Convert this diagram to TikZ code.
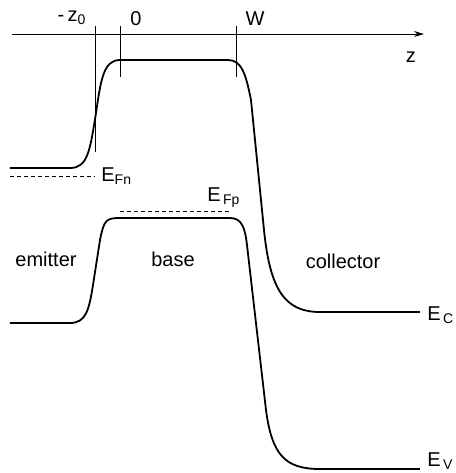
\documentclass[tikz,border=0pt]{standalone}
\usepackage{fontspec}
\setmainfont{Liberation Sans}
\usetikzlibrary{arrows.meta}
\begin{document}
\begin{tikzpicture}[x=0.5pt,y=-0.5pt,
  band/.style={line width=0.9pt,line join=round},
  fermi/.style={densely dashed,line width=0.5pt,dash pattern=on 2pt off 1.5pt},
  thin line/.style={line width=0.5pt},
  lbl/.style={inner sep=0pt,font=\fontsize{10}{12}\selectfont}]
\useasboundingbox (0,0) rectangle (456,473);

% axis and ticks
\coordinate (axL) at (12,34);
\coordinate (axR) at (424,34);
\draw[thin line,-{Stealth[length=5pt,width=3pt]}] (axL) -- (axR);
\coordinate (tzA) at (96,26);  \coordinate (tzB) at (96,152);
\coordinate (tnA) at (121,26); \coordinate (tnB) at (121,77);
\coordinate (twA) at (237,26); \coordinate (twB) at (237,77);
\draw[thin line] (tzA) -- (tzB);
\draw[thin line] (tnA) -- (tnB);
\draw[thin line] (twA) -- (twB);

\node[lbl] (lblzo) at (72,18) {-\,z\textsubscript{0}};
\node[lbl] (lblzero) at (136,19) {0};
\node[lbl] (lblW) at (255,19) {W};
\node[lbl] (lblz) at (411,57) {z};

% conduction band
\draw[band] (10,168) -- (70,168) .. controls (88,168) and (90,150) .. (96,113)
  .. controls (101,78) and (104,60) .. (120,60) -- (228,60)
  .. controls (242,60) and (246,75) .. (251,100) -- (264,230)
  .. controls (270,290) and (285,312) .. (320,312) -- (420,312);

% valence band
\draw[band] (10,323) -- (70,323) .. controls (86,323) and (89,310) .. (93,285)
  -- (100,240) .. controls (104,220) and (106,218) .. (120,218) -- (230,218)
  .. controls (242,218) and (245,228) .. (247,245) -- (266,410)
  .. controls (272,455) and (285,469) .. (320,469) -- (420,469);

% quasi Fermi levels
\coordinate (fnA) at (10,176);  \coordinate (fnB) at (95,176);
\coordinate (fpA) at (120,211); \coordinate (fpB) at (232,211);
\draw[fermi] (fnA) -- (fnB);
\draw[fermi] (fpA) -- (fpB);

\node[lbl,anchor=west] (lblEFn) at (101,176) {E\textsubscript{Fn}};
\node[lbl,anchor=west] (lblEFp) at (207,198) {E\textsubscript{\,Fp}};
\node[lbl,anchor=west] (lblEC) at (427,315) {E\textsubscript{\,C}};
\node[lbl,anchor=west] (lblEV) at (427,461) {E\textsubscript{\,V}};

\node[lbl] (lblem) at (46,259) {emitter};
\node[lbl] (lblba) at (173,259) {base};
\node[lbl] (lblco) at (343,261) {collector};
\end{tikzpicture}
\end{document}
